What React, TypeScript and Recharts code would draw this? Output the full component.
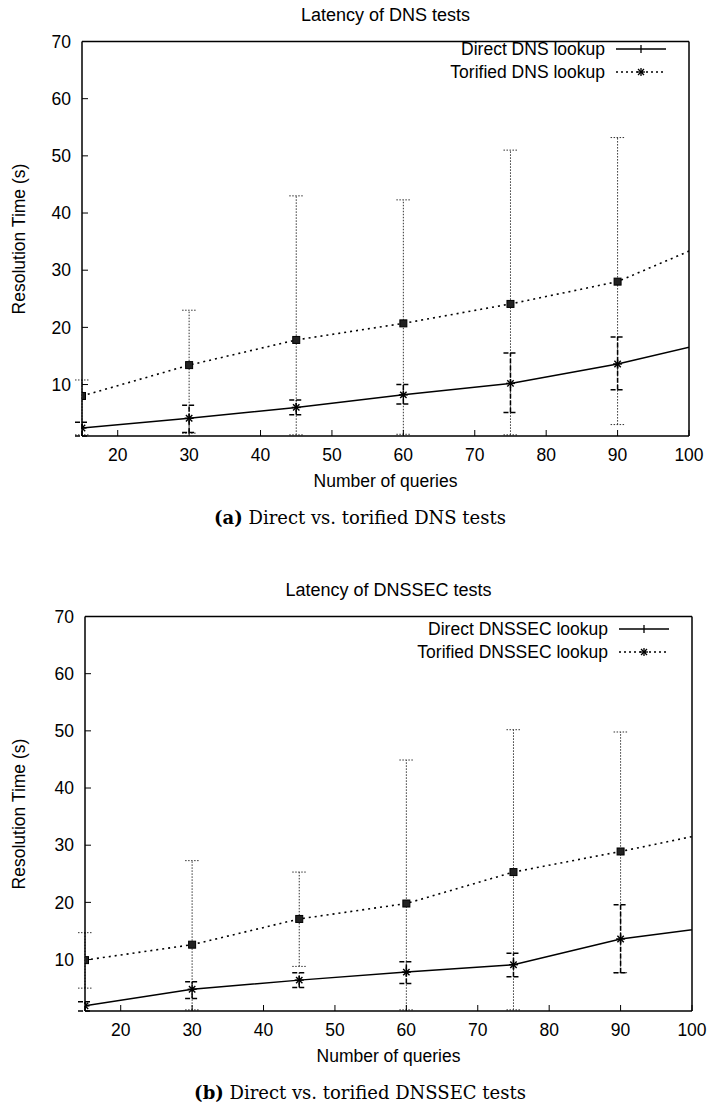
import React from "react";
import { LineChart, Line, XAxis, YAxis, ErrorBar } from "recharts";

const SANS = '"Liberation Sans", Arial, Helvetica, sans-serif';
const SERIF = '"DejaVu Serif", "Liberation Serif", serif';

// number of queries; the last point lies past the x range and is clipped at 100
const queries = [15, 30, 45, 60, 75, 90, 105];
const xTicks = [20, 30, 40, 50, 60, 70, 80, 90, 100];
const yTicks = [10, 20, 30, 40, 50, 60, 70];

// Latency of DNS tests
const dnsDirect = [2.4, 4.1, 6.0, 8.2, 10.2, 13.6, 18.0];
const dnsDirectLow = [1.0, 1.6, 4.7, 6.6, 5.1, 9.1, 18.0];
const dnsDirectHigh = [3.4, 6.4, 7.3, 10.0, 15.5, 18.3, 18.0];
const dnsTor = [8.0, 13.4, 17.8, 20.7, 24.1, 28.0, 36.0];
const dnsTorLow = [1.2, 1.5, 1.2, 1.3, 1.2, 3.0, 36.0];
const dnsTorHigh = [10.8, 23.0, 43.0, 42.3, 51.0, 53.2, 36.0];

// Latency of DNSSEC tests
const secDirect = [1.9, 4.8, 6.4, 7.8, 9.1, 13.6, 16.0];
const secDirectLow = [1.0, 3.2, 5.1, 5.8, 7.0, 7.7, 16.0];
const secDirectHigh = [2.6, 6.1, 7.7, 9.6, 11.1, 19.6, 16.0];
const secTor = [9.9, 12.6, 17.1, 19.8, 25.3, 28.9, 32.8];
const secTorLow = [5.0, 1.2, 8.8, 1.2, 1.2, 7.7, 32.8];
const secTorHigh = [14.7, 27.3, 25.3, 44.9, 50.2, 49.8, 32.8];

function buildRows(
  direct: number[], dLow: number[], dHigh: number[],
  tor: number[], tLow: number[], tHigh: number[]
) {
  return queries.map((q, i) => ({
    q,
    direct: direct[i],
    directErr: [direct[i] - dLow[i], dHigh[i] - direct[i]],
    tor: tor[i],
    torErr: [tor[i] - tLow[i], tHigh[i] - tor[i]],
  }));
}

const dnsRows = buildRows(dnsDirect, dnsDirectLow, dnsDirectHigh, dnsTor, dnsTorLow, dnsTorHigh);
const secRows = buildRows(secDirect, secDirectLow, secDirectHigh, secTor, secTorLow, secTorHigh);

function StarDot(p: any) {
  const { cx, cy } = p;
  if (cx == null || cy == null) return null;
  const r = 4.5;
  const d = 3.2;
  return (
    <g stroke="#000" strokeWidth={1.4}>
      <line x1={cx - r} y1={cy} x2={cx + r} y2={cy} />
      <line x1={cx} y1={cy - r} x2={cx} y2={cy + r} />
      <line x1={cx - d} y1={cy - d} x2={cx + d} y2={cy + d} />
      <line x1={cx - d} y1={cy + d} x2={cx + d} y2={cy - d} />
    </g>
  );
}

function SquareDot(p: any) {
  const { cx, cy } = p;
  if (cx == null || cy == null) return null;
  return <rect x={cx - 3.5} y={cy - 3.5} width={7} height={7} fill="#222" stroke="#000" strokeWidth={1} />;
}

function Txt({ x, y, size = 17.5, family = SANS, children }: any) {
  return (
    <div
      style={{
        position: "absolute",
        left: x,
        top: y,
        transform: "translate(-50%, -50%)",
        fontFamily: family,
        fontSize: size,
        lineHeight: 1,
        whiteSpace: "nowrap",
        color: "#000",
      }}
    >
      {children}
    </div>
  );
}

function LegendSample({ dotted, marker }: { dotted: boolean; marker: "plus" | "star" }) {
  return (
    <svg width={52} height={12} style={{ display: "block" }}>
      <line x1={1} y1={6} x2={51} y2={6} stroke="#000" strokeWidth={1.5} strokeDasharray={dotted ? "2 3" : undefined} />
      {marker === "plus" ? (
        <g stroke="#000" strokeWidth={1.3}>
          <line x1={26} y1={2} x2={26} y2={10} />
        </g>
      ) : (
        <g stroke="#000" strokeWidth={1.3}>
          <line x1={22} y1={6} x2={30} y2={6} />
          <line x1={26} y1={2} x2={26} y2={10} />
          <line x1={23} y1={3} x2={29} y2={9} />
          <line x1={23} y1={9} x2={29} y2={3} />
        </g>
      )}
    </svg>
  );
}

type ChartProps = {
  top: number;
  marginLeft: number;
  marginRight: number;
  legendY: number;
  rows: any[];
  title: string;
  directName: string;
  torName: string;
  tag: string;
  caption: string;
};

function LatencyChart({ top, marginLeft, marginRight, legendY, rows, title, directName, torName, tag, caption }: ChartProps) {
  const plotLeft = marginLeft + 82;
  const plotRight = 708 - marginRight - 1;
  const mid = (plotLeft + plotRight) / 2;
  const axisStyle = { stroke: "#000", strokeWidth: 1.5 };
  const tickStyle = { fill: "#000", fontSize: 17.5, fontFamily: SANS };
  return (
    <div style={{ position: "absolute", left: 0, top, width: 708, height: 540 }}>
      <LineChart
        width={708}
        height={500}
        data={rows}
        margin={{ top: 40.5, right: marginRight, bottom: 0, left: marginLeft }}
      >
        <XAxis
          xAxisId="b"
          dataKey="q"
          type="number"
          domain={[15, 100]}
          ticks={xTicks}
          interval={0}
          allowDataOverflow
          height={64}
          tickSize={-6}
          tickMargin={19}
          tick={tickStyle}
          axisLine={axisStyle}
          tickLine={{ stroke: "#000", strokeWidth: 1 }}
        />
        <XAxis
          xAxisId="t"
          orientation="top"
          dataKey="q"
          type="number"
          domain={[15, 100]}
          ticks={xTicks}
          interval={0}
          allowDataOverflow
          height={1}
          tickSize={-6}
          tick={false}
          axisLine={axisStyle}
          tickLine={{ stroke: "#000", strokeWidth: 1 }}
        />
        <YAxis
          yAxisId="l"
          type="number"
          domain={[1, 70]}
          ticks={yTicks}
          interval={0}
          allowDataOverflow
          width={82}
          tickSize={-6}
          tickMargin={17}
          tick={tickStyle}
          axisLine={axisStyle}
          tickLine={{ stroke: "#000", strokeWidth: 1 }}
        />
        <YAxis
          yAxisId="r"
          orientation="right"
          type="number"
          domain={[1, 70]}
          ticks={yTicks}
          interval={0}
          allowDataOverflow
          width={1}
          tickSize={-6}
          tick={false}
          axisLine={axisStyle}
          tickLine={{ stroke: "#000", strokeWidth: 1 }}
        />
        <Line
          xAxisId="b"
          yAxisId="l"
          dataKey="tor"
          name={torName}
          type="linear"
          stroke="#000"
          strokeWidth={1.6}
          strokeDasharray="2 4"
          dot={(p: any) => <SquareDot key={`t${p.index}`} {...p} />}
          activeDot={false}
          isAnimationActive={false}
        >
          <ErrorBar
            dataKey="torErr"
            direction="y"
            width={7}
            stroke="#333"
            strokeWidth={1}
            strokeDasharray="1.5 1.5"
            isAnimationActive={false}
          />
        </Line>
        <Line
          xAxisId="b"
          yAxisId="l"
          dataKey="direct"
          name={directName}
          type="linear"
          stroke="#000"
          strokeWidth={1.5}
          dot={(p: any) => <StarDot key={`d${p.index}`} {...p} />}
          activeDot={false}
          isAnimationActive={false}
        >
          <ErrorBar
            dataKey="directErr"
            direction="y"
            width={7}
            stroke="#000"
            strokeWidth={1.5}
            strokeDasharray="5 2"
            isAnimationActive={false}
          />
        </Line>
      </LineChart>

      <Txt x={mid} y={15} size={18}>{title}</Txt>
      <Txt x={mid} y={482}>Number of queries</Txt>
      <div
        style={{
          position: "absolute",
          left: 20,
          top: 239,
          transform: "translate(-50%, -50%) rotate(-90deg)",
          fontFamily: SANS,
          fontSize: 17.5,
          lineHeight: 1,
          whiteSpace: "nowrap",
        }}
      >
        Resolution Time (s)
      </div>

      {[
        { name: directName, dotted: false, marker: "plus" as const, y: legendY },
        { name: torName, dotted: true, marker: "star" as const, y: legendY + 23 },
      ].map((r) => (
        <div
          key={r.name}
          style={{ position: "absolute", top: r.y - 10, left: plotRight - 400, width: 400, height: 20 }}
        >
          <div
            style={{
              position: "absolute",
              right: 84,
              top: 0,
              fontFamily: SANS,
              fontSize: 17.5,
              lineHeight: "20px",
              whiteSpace: "nowrap",
            }}
          >
            {r.name}
          </div>
          <div style={{ position: "absolute", right: 22, top: 4 }}>
            <LegendSample dotted={r.dotted} marker={r.marker} />
          </div>
        </div>
      ))}

      <Txt x={360} y={518} size={18} family={SERIF}>
        <b>{tag}</b> {caption}
      </Txt>
    </div>
  );
}

export default function App() {
  return (
    <div style={{ position: "absolute", left: 0, top: 0, width: 708, height: 1106, overflow: "hidden", background: "#fff" }}>
      <LatencyChart
        top={0}
        marginLeft={0}
        marginRight={18}
        legendY={49}
        rows={dnsRows}
        title="Latency of DNS tests"
        directName="Direct DNS lookup"
        torName="Torified DNS lookup"
        tag="(a)"
        caption="Direct vs. torified DNS tests"
      />
      <LatencyChart
        top={575}
        marginLeft={3}
        marginRight={15}
        legendY={54}
        rows={secRows}
        title="Latency of DNSSEC tests"
        directName="Direct DNSSEC lookup"
        torName="Torified DNSSEC lookup"
        tag="(b)"
        caption="Direct vs. torified DNSSEC tests"
      />
    </div>
  );
}
